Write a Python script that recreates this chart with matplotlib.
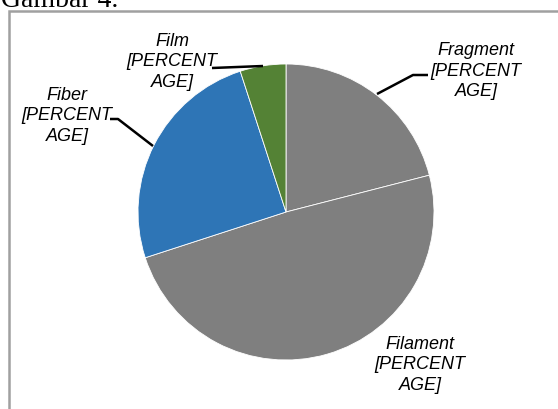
import matplotlib.pyplot as plt
from matplotlib.patches import Rectangle

# pie data (share of each microplastic shape, %)
categories = ['Fragment', 'Filament', 'Fiber', 'Film']
values = [21, 49, 25, 5]
colors = ['#7f7f7f', '#7f7f7f', '#2e75b6', '#548235']
label_text = '[PERCENT\nAGE]'

W, H = 558, 410


def py(y):
    # pixel row (from top) -> data y
    return H - y


def main():
    fig = plt.figure(figsize=(W / 100, H / 100), dpi=100)
    fig.patch.set_facecolor('white')
    ax = fig.add_axes([0, 0, 1, 1])

    ax.pie(values, colors=colors, startangle=90, counterclock=False,
           center=(286, py(213)), radius=148, frame=True,
           wedgeprops=dict(edgecolor='white', linewidth=0.6))
    ax.set_xlim(0, W)
    ax.set_ylim(0, H)
    ax.set_aspect('equal')
    ax.axis('off')

    # chart frame (right and bottom edges fall outside the picture)
    ax.add_patch(Rectangle((8.5, py(600)), 700, 600 - 12, fill=False,
                           edgecolor='#a0a0a0', linewidth=1.8, zorder=1))

    ax.text(1, py(7), 'Gambar 4.', family='Liberation Serif', fontsize=20,
            ha='left', va='baseline', color='black')

    # data labels
    lab = dict(family='Liberation Sans', style='italic', fontsize=13,
               ha='center', va='center', linespacing=1.3, color='black')
    ax.text(476, py(71), categories[0] + '\n' + label_text, **lab)
    ax.text(420, py(365), categories[1] + '\n' + label_text, **lab)
    ax.text(67, py(116), categories[2] + '\n' + label_text, **lab)
    ax.text(172, py(62), categories[3] + '\n' + label_text, **lab)

    # leader lines
    lk = dict(color='black', linewidth=1.8, solid_capstyle='butt')
    ax.plot([377, 413, 428], [py(95), py(76), py(76)], **lk)
    ax.plot([212, 263], [py(69), py(67)], **lk)
    ax.plot([110, 118, 153], [py(120), py(120), py(147)], **lk)

    fig.savefig('out.png', dpi=100, facecolor='w')
    plt.close('all')


if __name__ == '__main__':
    main()
